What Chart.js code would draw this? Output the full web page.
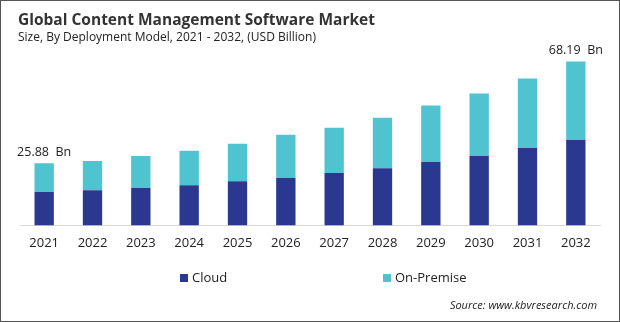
<!DOCTYPE html>
<html>
<head>
<meta charset="utf-8">
<script src="https://cdn.jsdelivr.net/npm/chart.js@4.4.1/dist/chart.umd.min.js"></script>
<style>
  html, body { margin: 0; padding: 0; background: #fff; }
  #wrap { position: relative; width: 620px; height: 322px; }
</style>
</head>
<body>
<div id="wrap"><canvas id="market-chart" width="620" height="322"></canvas></div>
<script>
(function () {
    "use strict";

    // Market size by deployment model (USD Billion)
    var years = ["2021", "2022", "2023", "2024", "2025", "2026", "2027", "2028", "2029", "2030", "2031", "2032"];
    var cloud = [13.9, 14.6, 15.5, 16.7, 18.4, 19.7, 21.8, 23.8, 26.4, 28.9, 32.2, 35.5];
    var onPremise = [11.98, 12.2, 13.4, 14.3, 15.5, 18.0, 18.8, 21.0, 23.4, 25.9, 28.9, 32.69];
    var totalLabels = ["25.88  Bn", "", "", "", "", "", "", "", "", "", "", "68.19  Bn"];

    var FONT = "'Open Sans', 'DejaVu Sans', sans-serif";

    // Title, value callouts, legend, source and frame
    var decorations = {
        id: "decorations",
        afterDraw: function (chart) {
            var c = chart.ctx;
            c.save();

            c.fillStyle = "#333";
            c.textBaseline = "alphabetic";
            c.textAlign = "left";
            c.font = "bold 15.5px " + FONT;
            c.fillText("Global Content Management Software Market", 18, 25);
            c.font = "12px " + FONT;
            c.fillStyle = "#222";
            c.fillText("Size, By Deployment Model, 2021 - 2032, (USD Billion)", 18, 41);

            // totals above the first and last bar
            var meta = chart.getDatasetMeta(1);
            c.font = "12.5px " + FONT;
            c.fillStyle = "#222";
            totalLabels.forEach(function (t, i) {
                if (!t) return;
                var bar = meta.data[i];
                c.textAlign = "center";
                c.fillText(t, bar.x, bar.y - 7);
            });

            // legend
            var items = [[180, 0], [383, 1]];
            c.font = "13px " + FONT;
            c.textAlign = "left";
            c.textBaseline = "middle";
            items.forEach(function (it) {
                var ds = chart.data.datasets[it[1]];
                c.fillStyle = ds.backgroundColor;
                c.fillRect(it[0], 274, 8, 8);
                c.fillStyle = "#222";
                c.fillText(ds.label, it[0] + 12, 278);
            });

            c.font = "italic 11px " + FONT;
            c.textAlign = "right";
            c.fillStyle = "#222";
            c.fillText("Source: www.kbvresearch.com", 597, 306);

            c.strokeStyle = "#555";
            c.lineWidth = 1;
            c.strokeRect(0.5, 0.5, 619, 321);
            c.restore();
        }
    };

    var ctx = document.getElementById("market-chart").getContext("2d");
    new Chart(ctx, {
        type: "bar",
        data: {
            labels: years,
            datasets: [{
                label: "Cloud",
                data: cloud,
                backgroundColor: "#2B388F",
                barPercentage: 0.4,
                categoryPercentage: 1
            }, {
                label: "On-Premise",
                data: onPremise,
                backgroundColor: "#4FC3CF",
                barPercentage: 0.4,
                categoryPercentage: 1
            }]
        },
        options: {
            responsive: false,
            animation: false,
            layout: { padding: { top: 45, left: 20, right: 20, bottom: 61 } },
            plugins: {
                legend: { display: false },
                tooltip: { enabled: false }
            },
            scales: {
                x: {
                    stacked: true,
                    grid: { display: false, drawTicks: false },
                    border: { color: "#d9d9d9", width: 1 },
                    ticks: { color: "#222", font: { family: FONT, size: 13 }, padding: 10 }
                },
                y: {
                    stacked: true,
                    display: false,
                    min: 0,
                    max: 75
                }
            }
        },
        plugins: [decorations]
    });
})();
</script>
</body>
</html>
